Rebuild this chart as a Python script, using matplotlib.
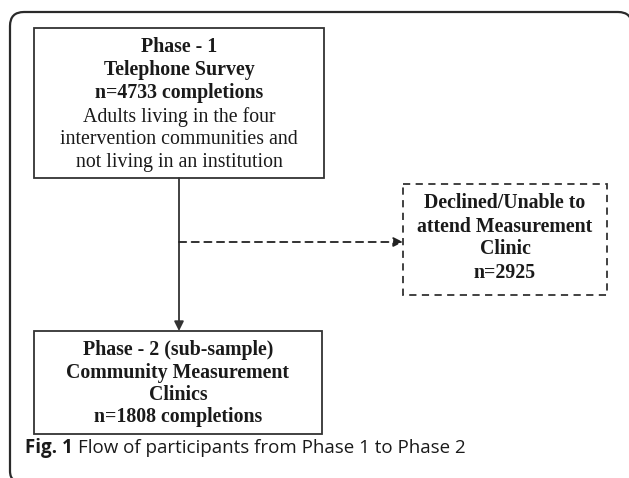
import matplotlib.pyplot as plt
from matplotlib.patches import PathPatch, Rectangle
from matplotlib.path import Path

# box texts (bold lines, then regular lines)
phase1_bold = ['Phase - 1', 'Telephone Survey', 'n=4733 completions']
phase1_text = ['Adults living in the four', 'intervention communities and', 'not living in an institution']
phase2_bold = ['Phase - 2 (sub-sample)', 'Community Measurement', 'Clinics', 'n=1808 completions']
declined_bold = ['Declined/Unable to', 'attend Measurement', 'Clinic', 'n=2925']
caption_bold = 'Fig. 1'
caption_text = 'Flow of participants from Phase 1 to Phase 2'

serif = 'Liberation Serif'
fs = 14.3

fig = plt.figure(figsize=(6.29, 4.78), dpi=100)
ax = fig.add_axes([0, 0, 1, 1])
ax.set_xlim(0, 629)
ax.set_ylim(478, 0)
ax.axis('off')

# outer frame: left side and top with rounded corners, rest is cut off
verts = [(14, 480), (10, 478), (10, 471), (10, 26), (10, 12), (24, 12),
         (618, 12), (632, 12), (632, 26)]
codes = [Path.MOVETO, Path.CURVE3, Path.CURVE3, Path.LINETO, Path.CURVE3, Path.CURVE3,
         Path.LINETO, Path.CURVE3, Path.CURVE3]
ax.add_patch(PathPatch(Path(verts, codes), fc='none', ec='#2a2a2a', lw=1.6))

def box(x0, y0, x1, y1, ls='-'):
    ax.add_patch(Rectangle((x0, y0), x1 - x0, y1 - y0, fc='white', ec='#333333',
                           lw=1.3, ls=ls))

def lines(cx, ys, texts, weight):
    for y, t in zip(ys, texts):
        ax.text(cx, y, t, ha='center', va='center', family=serif,
                fontsize=fs, fontweight=weight, color='#1a1a1a')

# phase 1
box(34, 28, 324, 178)
lines(179, [47, 70, 93], phase1_bold, 'bold')
lines(179, [117, 140, 162], phase1_text, 'normal')

# phase 2
box(34, 331, 322, 434)
lines(178, [350, 373, 395, 417], phase2_bold, 'bold')

# declined
box(403, 184, 607, 295, ls=(0, (4, 3)))
lines(505, [203, 227, 249, 273], declined_bold, 'bold')

# arrows
ax.annotate('', xy=(179, 331), xytext=(179, 178),
            arrowprops=dict(arrowstyle='-|>', color='#333333', lw=1.3,
                            mutation_scale=14, shrinkA=0, shrinkB=0))
ax.annotate('', xy=(403, 242), xytext=(179, 242),
            arrowprops=dict(arrowstyle='-|>', color='#222222', lw=1.3,
                            ls=(0, (4, 3)), mutation_scale=14, shrinkA=0, shrinkB=0))

# caption
t = ax.text(25, 453, caption_bold + ' ', ha='left', va='baseline', family='Open Sans',
            fontsize=13.5, fontweight='bold', color='#1a1a1a')
fig.canvas.draw()
bb = t.get_window_extent()
x_end = ax.transData.inverted().transform((bb.x1, bb.y0))[0]
ax.text(x_end, 453, caption_text, ha='left', va='baseline', family='Open Sans',
        fontsize=13.5, color='#1a1a1a')

plt.savefig('out.png', dpi=100)
